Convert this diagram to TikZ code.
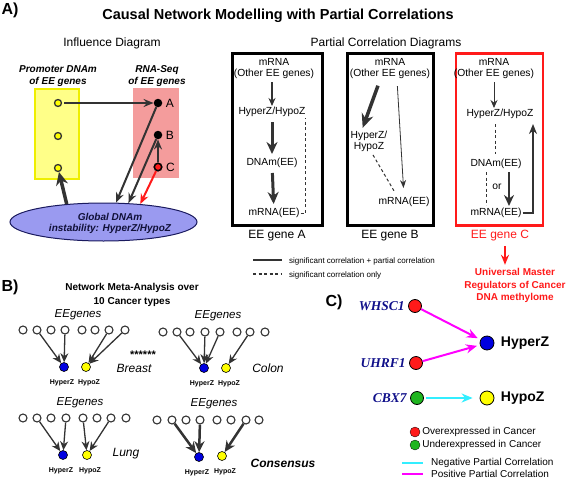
\documentclass[tikz,border=0pt]{standalone}
\usepackage{fontspec}
\setmainfont{Liberation Sans}
\newfontfamily\genefont{Liberation Serif}
\usepackage{xcolor}
\definecolor{dkg}{HTML}{333333}
\definecolor{yelF}{HTML}{FFFF88}
\definecolor{yelB}{HTML}{EEEE00}
\definecolor{yel00}{HTML}{FFFF00}
\definecolor{pnk00}{HTML}{F49C9C}
\definecolor{lav00}{HTML}{9A9AF0}
\definecolor{nav00}{HTML}{1A1A5E}
\definecolor{red00}{HTML}{FF1A1A}
\definecolor{blu00}{HTML}{0000E0}
\definecolor{grn00}{HTML}{1FB51F}
\definecolor{mag00}{HTML}{FF00FF}
\definecolor{cya00}{HTML}{33EEFF}
\definecolor{gene_blue}{HTML}{10108A}
\usepackage{tikz}
\usetikzlibrary{positioning}
\usetikzlibrary{shapes.geometric, arrows, arrows.meta}
\tikzstyle{ttl_txt} = [font=\fontsize{14.5}{16}\selectfont\bfseries]
\tikzstyle{panel_txt} = [font=\fontsize{16}{18}\selectfont\bfseries]
\tikzstyle{head_txt} = [font=\fontsize{12}{14}\selectfont]
\tikzstyle{src_txt} = [font=\fontsize{10}{12}\selectfont\bfseries\itshape, align=center]
\tikzstyle{abc_txt} = [font=\fontsize{12}{14}\selectfont]
\tikzstyle{prom_box} = [rectangle, minimum width=44pt, minimum height=90pt, draw=yelB, fill=yelF, line width=1.5pt]
\tikzstyle{rna_box} = [rectangle, minimum width=46pt, minimum height=90pt, fill=pnk00]
\tikzstyle{prom_dot} = [circle, minimum size=7pt, inner sep=0pt, draw=dkg, fill=yel00, line width=1.3pt]
\tikzstyle{rna_dot} = [circle, minimum size=8.5pt, inner sep=0pt, fill=black]
\tikzstyle{glob} = [ellipse, minimum width=187pt, minimum height=38pt, draw=nav00, fill=lav00, line width=1pt, inner sep=0pt]
\tikzstyle{glob_txt} = [font=\fontsize{10}{11}\selectfont\bfseries\itshape, align=center, text=nav00!60!black]
\tikzstyle{pc_box} = [rectangle, minimum height=172pt, draw=black, line width=3pt]
\tikzstyle{pc_txt} = [font=\fontsize{10.3}{11.5}\selectfont, align=center, inner sep=1pt]
\tikzstyle{gene_txt} = [font=\fontsize{12}{14}\selectfont]
\tikzstyle{um_txt} = [font=\fontsize{10}{12.5}\selectfont\bfseries, align=center, text=red00]
\tikzstyle{leg_txt} = [font=\fontsize{8}{9}\selectfont, anchor=west, inner sep=0pt]
\tikzstyle{thin_arr} = [line width=1.2pt,-{Stealth[length=8pt,width=7pt]},dkg]
\tikzstyle{mid_arr} = [line width=2pt,-{Stealth[length=10pt,width=8pt]},dkg]
\tikzstyle{thk_arr} = [line width=3pt,-{Stealth[length=12pt,width=11pt]},dkg]
\tikzstyle{dash_ln} = [line width=1pt,dash pattern=on 3pt off 2.5pt,dkg]
\tikzstyle{nm_txt} = [font=\fontsize{10}{14}\selectfont\bfseries, align=center]
\tikzstyle{ee} = [circle, minimum size=8pt, inner sep=0pt, draw=dkg, fill=white, line width=1.1pt]
\tikzstyle{z_lbl} = [font=\fontsize{7}{8}\selectfont\bfseries, label distance=4pt]
\tikzstyle{hyper} = [circle, minimum size=9pt, inner sep=0pt, draw=black, fill=blu00, line width=0.6pt, label={[z_lbl,xshift=-2pt]below:HyperZ}]
\tikzstyle{hypo} = [circle, minimum size=9pt, inner sep=0pt, draw=black, fill=yel00, line width=0.6pt, label={[z_lbl,xshift=3pt]below:HypoZ}]
\tikzstyle{net_arr} = [line width=1.3pt,-{Stealth[length=9pt,width=8pt]},dkg]
\tikzstyle{cons_arr} = [line width=2.5pt,-{Stealth[length=11pt,width=10pt]},dkg]
\tikzstyle{ee_txt} = [font=\fontsize{11.5}{13}\selectfont\itshape]
\tikzstyle{type_txt} = [font=\fontsize{12}{14}\selectfont\itshape]
\tikzstyle{reg} = [circle, minimum size=13pt, inner sep=0pt, draw=black, line width=0.8pt]
\tikzstyle{gname} = [font=\genefont\bfseries\itshape\fontsize{13.5}{15}\selectfont, text=gene_blue]
\tikzstyle{zname} = [font=\fontsize{14}{16}\selectfont\bfseries, label distance=3pt]
\tikzstyle{pos_arr} = [line width=2pt,-{Stealth[length=11pt,width=9pt]},mag00]
\tikzstyle{neg_arr} = [line width=2pt,-{Stealth[length=11pt,width=9pt]},cya00]
\tikzstyle{c_leg} = [font=\fontsize{10}{12}\selectfont, anchor=west, inner sep=0pt]
\begin{document}
\begin{tikzpicture}[x=1pt,y=-1pt]
    \useasboundingbox (0,0) rectangle (567,479);
    \node (pa)[panel_txt] at (10,10){A)};
    \node (ttl)[ttl_txt] at (278,16){Causal Network Modelling with Partial Correlations};
    \node (inf)[head_txt] at (112,43){Influence Diagram};
    \node (pcd)[head_txt] at (386,43){Partial Correlation Diagrams};
    \node (pt)[src_txt] at (58,76){Promoter DNAm\\of EE genes};
    \node (rt)[src_txt] at (157,76){RNA-Seq\\of EE genes};
    \node (yb)[prom_box] at (57,134){};
    \node (pb)[rna_box] at (156,133){};
    \node (y1)[prom_dot] at (58,103){};
    \node (y2)[prom_dot] at (58,136){};
    \node (y3)[prom_dot] at (58,168){};
    \node (rA)[rna_dot,label={[abc_txt]right:A}] at (158,103){};
    \node (rB)[rna_dot,label={[abc_txt]right:B}] at (158,135){};
    \node (rC)[rna_dot,minimum size=7.5pt,fill=red00,draw=black,line width=1.6pt,label={[abc_txt]right:C}] at (158,167){};
    \node (gl)[glob] at (103.5,222){};
    \node (gt)[glob_txt] at (110,223.5){Global DNAm\\instability: HyperZ/HypoZ};
    \draw [mid_arr,shorten <=2pt] (y1) -- (rA);
    \draw [mid_arr] (rA) -- (gl.57);
    \draw [mid_arr] (rB) -- (gl.37);
    \draw [mid_arr,red00] (rC) -- (gl.26);
    \draw [mid_arr] (rC) -- (rB);
    \draw [thk_arr,line width=3.5pt,-{Stealth[length=13pt,width=12pt]}] (gl.154) -- (y3);
    \node (bA)[pc_box,minimum width=90pt] at (277,139){};
    \node (gA)[gene_txt] at (277,236){EE gene A};
    \node (a1)[pc_txt] at (274,68.5){mRNA\\(Other EE genes)};
    \node (a2)[pc_txt] at (272,112){HyperZ/HypoZ};
    \node (a3)[pc_txt] at (272,163){DNAm(EE)};
    \node (a4)[pc_txt] at (274,213){mRNA(EE)};
    \draw [thin_arr,shorten <=2pt] (a1.south -| a2) -- (a2);
    \draw [thk_arr,shorten <=4pt,shorten >=3pt] (a2) -- (a3);
    \draw [thk_arr,shorten <=4pt,shorten >=3pt] (a3) -- (a4);
    \draw [dash_ln] (a4.east) -| ([xshift=-1pt]a2.south east);
    \node (bB)[pc_box,minimum width=86pt] at (390,139){};
    \node (gB)[gene_txt] at (390,236){EE gene B};
    \node (b1)[pc_txt] at (390,68.5){mRNA\\(Other EE genes)};
    \node (b2)[pc_txt] at (369,141.5){HyperZ/\\HypoZ};
    \node (b3)[pc_txt] at (404,202){mRNA(EE)};
    \draw [thk_arr,line width=3.5pt,-{Stealth[length=14pt,width=12pt]},shorten <=6pt,shorten >=2pt] ([xshift=-10pt]b1.south) -- ([xshift=-7pt]b2.north);
    \draw [line width=0.8pt,-{Stealth[length=8pt,width=6pt]},dkg,shorten <=6pt,shorten >=8pt] ([xshift=7pt]b1.south) -- (b3.north);
    \draw [dash_ln,shorten <=2pt,shorten >=5pt] ([xshift=3pt]b2.south) -- ([xshift=-7pt]b3.north);
    \node (bC)[pc_box,minimum width=87pt,draw=red00,line width=2.5pt] at (499.5,139.5){};
    \node (gC)[gene_txt,text=red00] at (500,236){EE gene C};
    \node (c1)[pc_txt] at (494,68.5){mRNA\\(Other EE genes)};
    \node (c2)[pc_txt] at (500,114){HyperZ/HypoZ};
    \node (c3)[pc_txt] at (496,164){DNAm(EE)};
    \node (c5)[pc_txt] at (497,187){or};
    \node (c4)[pc_txt] at (496,213){mRNA(EE)};
    \draw [thin_arr,line width=1pt,shorten <=2pt] (c1.south) -- (c1.south |- c2.north);
    \draw [dash_ln,shorten <=4pt,shorten >=4pt] ([xshift=-5pt]c2.south) -- ([xshift=-1pt]c3.north);
    \draw [dash_ln,shorten <=2pt,shorten >=2pt] ([xshift=-10pt]c3.south) -- ([xshift=-10pt]c4.north);
    \draw [thk_arr,line width=2.5pt,-{Stealth[length=11pt,width=10pt]},shorten <=2pt,shorten >=1pt] ([xshift=13pt]c3.south) -- ([xshift=13pt]c4.north);
    \draw [mid_arr,shorten >=4pt] (c4.east) -| ([xshift=33pt]c2.south);
    \node (um)[um_txt] at (515,285.5){Universal Master\\Regulators of Cancer\\DNA methylome};
    \draw [mid_arr,red00,shorten <=1pt] ([xshift=5pt]gC.south) -- ([xshift=-10pt]um.north);
    \coordinate (s1a) at (253,260);
    \coordinate (s1b) at (282,260);
    \coordinate (s2a) at (253,274);
    \coordinate (s2b) at (282,274);
    \node (l1)[leg_txt] at (289,261){significant correlation + partial correlation};
    \node (l2)[leg_txt] at (289,275){significant correlation only};
    \draw [line width=2pt,dkg] (s1a) -- (s1b);
    \draw [dash_ln,line width=1.5pt] (s2a) -- (s2b);
    \node (pB)[panel_txt] at (10,287){B)};
    \node (nm)[nm_txt] at (132,295){Network Meta-Analysis over\\10 Cancer types};
    \foreach \i/\x in {1/23,2/37,3/51,4/65,5/82,6/95,7/109,8/125}
        \node (tl\i)[ee] at (\x,330){};
    \node (tlz)[hyper] at (64,367){};
    \node (tlo)[hypo] at (86,367){};
    \draw [net_arr] (tl2) -- (tlz);
    \draw [net_arr] (tl4) -- (tlz);
    \draw [net_arr] (tl7) -- (tlo);
    \draw [net_arr] (tl8) -- (tlo);
    \node (tle)[ee_txt] at (78,315){EEgenes};
    \node (brs)[type_txt] at (134,368){Breast};
    \node (stars)[font=\fontsize{11}{12}\selectfont\bfseries] at (143,354.5){******};
    \foreach \i/\x in {1/163,2/177,3/190,4/205,5/220,6/237,7/250,8/265}
        \node (tr\i)[ee] at (\x,332){};
    \node (trz)[hyper] at (204,368){};
    \node (tro)[hypo] at (226,368){};
    \draw [net_arr] (tr2) -- (trz);
    \draw [net_arr] (tr4) -- (trz);
    \draw [net_arr] (tr5) -- (trz);
    \draw [net_arr] (tr7) -- (tro);
    \node (tre)[ee_txt] at (218,316){EEgenes};
    \node (col)[type_txt] at (268,368){Colon};
    \foreach \i/\x in {1/23,2/37,3/51,4/66,5/83,6/97,7/111,8/126}
        \node (bl\i)[ee] at (\x,418){};
    \node (blz)[hyper] at (63,455){};
    \node (blo)[hypo] at (87,455){};
    \draw [net_arr] (bl2) -- (blz);
    \draw [net_arr] (bl4) -- (blz);
    \draw [net_arr] (bl5) -- (blo);
    \draw [net_arr] (bl7) -- (blo);
    \node (ble)[ee_txt] at (80,403){EEgenes};
    \node (lng)[type_txt] at (126,454){Lung};
    \foreach \i/\x in {1/157,2/172,3/186,4/200,5/217,6/231,7/246,8/259}
        \node (br\i)[ee] at (\x,420){};
    \node (brz)[hyper] at (199,457){};
    \node (bro)[hypo] at (222,456){};
    \draw [cons_arr] (br2) -- (brz);
    \draw [cons_arr] (br4) -- (brz);
    \draw [cons_arr] (br7) -- (bro);
    \node (bre)[ee_txt] at (214,404){EEgenes};
    \node (cns)[type_txt,font=\fontsize{12}{14}\selectfont\bfseries\itshape] at (283,463){Consensus};
    \node (pC)[panel_txt] at (334,302){C)};
    \node (wh)[reg,fill=red00,label={[gname]left:WHSC1}] at (415,306){};
    \node (uh)[reg,fill=red00,label={[gname]left:UHRF1}] at (416,363){};
    \node (cb)[reg,fill=grn00,label={[gname]left:CBX7}] at (417,398){};
    \node (hz)[reg,minimum size=14pt,fill=blu00,label={[zname]right:HyperZ}] at (487,343){};
    \node (ho)[reg,minimum size=14pt,fill=yel00,label={[zname]right:HypoZ}] at (487,398){};
    \draw [pos_arr,shorten >=3pt] (wh) -- (hz);
    \draw [pos_arr,shorten >=3pt] (uh) -- (hz);
    \draw [neg_arr,shorten <=2pt,shorten >=7pt] (cb) -- (ho);
    \node (ovd)[reg,minimum size=10pt,fill=red00,line width=0.3pt] at (415,432){};
    \node (ovt)[c_leg,right=2pt of ovd]{Overexpressed in Cancer};
    \node (und)[reg,minimum size=10pt,fill=grn00,line width=0.3pt] at (415,445){};
    \node (unt)[c_leg,right=2pt of und]{Underexpressed in Cancer};
    \coordinate (ng1) at (402,463);
    \coordinate (ng2) at (423,463);
    \coordinate (ps1) at (402,474);
    \coordinate (ps2) at (423,474);
    \node (ngt)[c_leg] at (431,463){Negative Partial Correlation};
    \node (pst)[c_leg] at (431,474){Positive Partial Correlation};
    \draw [cya00,line width=1.5pt] (ng1) -- (ng2);
    \draw [mag00,line width=1.5pt] (ps1) -- (ps2);
\end{tikzpicture}
\end{document}
